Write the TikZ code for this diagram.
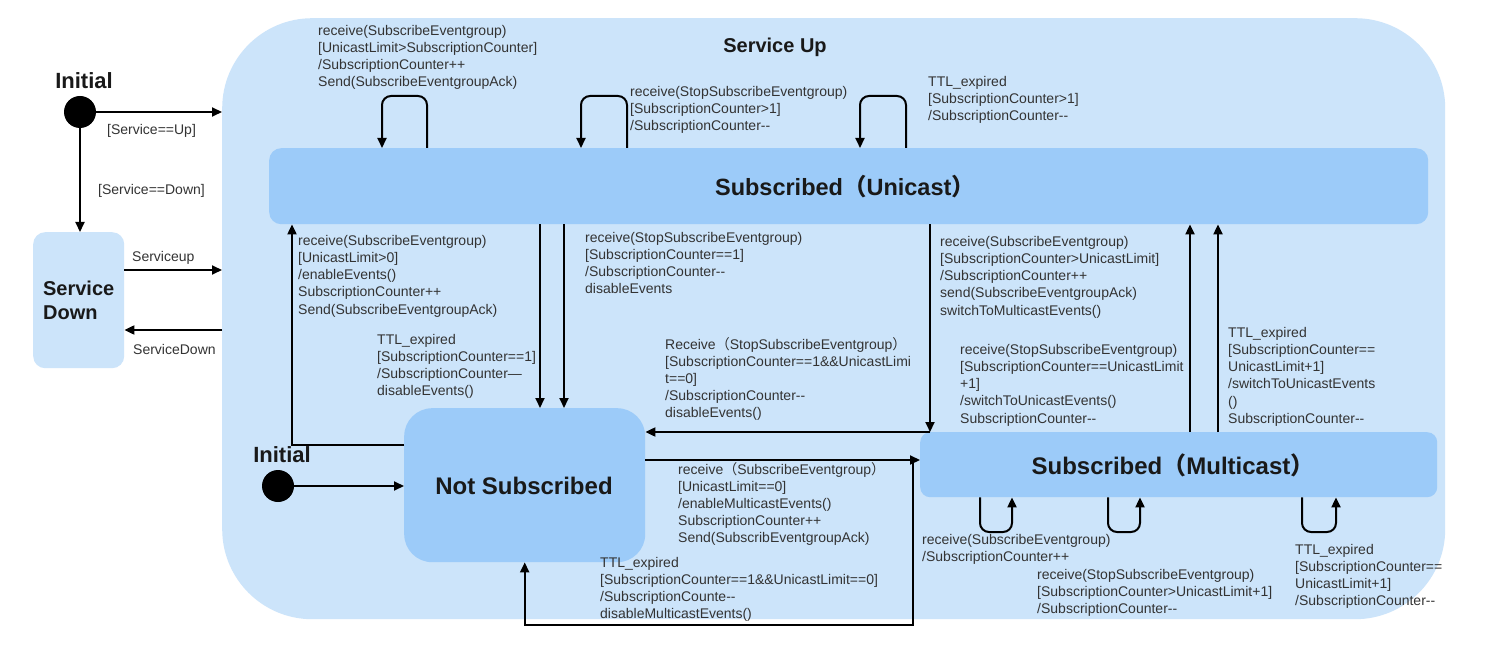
\documentclass[tikz,border=0pt]{standalone}
\usepackage{fontspec}
\setmainfont{Liberation Sans}
\newfontfamily\cjk{Noto Sans CJK SC}
\usetikzlibrary{arrows.meta}
\definecolor{outerblue}{HTML}{CCE4FA}
\definecolor{innerblue}{HTML}{9CCBF9}
\definecolor{txt}{HTML}{333333}
\newcommand{\fwlp}{{\cjk （}}
\newcommand{\fwrp}{{\cjk ）}}
\begin{document}
\begin{tikzpicture}[x=1pt,y=-1pt,
  arr/.style={draw=black, line width=2pt, -{Triangle[length=10pt,width=9pt]}},
  lbl/.style={anchor=north west, inner sep=0pt, align=left, text=txt, font=\fontsize{14}{17.2}\selectfont},
  statebox/.style={fill=innerblue, rounded corners=12pt, inner sep=0pt, text=black!90, font=\bfseries\fontsize{24}{28}\selectfont},
  titletext/.style={font=\bfseries\fontsize{20}{24}\selectfont, text=black!90, inner sep=0pt},
  initdot/.style={circle, fill=black, minimum size=32pt, inner sep=0pt}]

\useasboundingbox (0,0) rectangle (1488,652);
\fill[white] (0,0) rectangle (1488,652);

% composite state
\node[fill=outerblue, rounded corners=90pt, minimum width=1223pt, minimum height=601pt, anchor=north west, inner sep=0pt] (up) at (222,18) {};
\node[titletext] (uptitle) at (775,47) {Service Up};

% states
\node[fill=outerblue, rounded corners=12pt, minimum width=91pt, minimum height=136pt, anchor=north west, inner sep=0pt] (sd) at (33,232) {};
\node[titletext, align=left] (sdtext) at (sd.center) {Service\\Down};

\node[statebox, minimum width=1159pt, minimum height=76pt, anchor=north west] (un) at (269,148) {};
\node[statebox, fill=none, font=\bfseries\fontsize{23.5}{28}\selectfont] (untext) at (845,187) {Subscribed\fwlp Unicast\fwrp};

\node[statebox, rounded corners=28pt, minimum width=241pt, minimum height=154pt, anchor=north west] (ns) at (404,408) {};
\node[statebox, fill=none] (nstext) at (524,486) {Not Subscribed};

\node[statebox, rounded corners=10pt, minimum width=517pt, minimum height=65pt, anchor=north west] (mc) at (920,432) {};
\node[statebox, fill=none] (mctext) at (1173,465) {Subscribed\fwlp Multicast\fwrp};

% initial pseudo-states
\node[initdot] (i1) at (80,112) {};
\node[titletext, font=\bfseries\fontsize{22}{26}\selectfont] (i1t) at (84,81) {Initial};
\node[initdot] (i2) at (278,486) {};
\node[titletext, font=\bfseries\fontsize{22}{26}\selectfont] (i2t) at (282,455) {Initial};

% outer transitions
\draw[arr] (i1.east) -- (up.west |- i1.east);
\draw[arr] (i1.south) -- (sd.north -| i1.south);
\draw[arr] (sd.east |- 0,270) -- (up.west |- 0,270);
\draw[arr] (up.west |- 0,330) -- (sd.east |- 0,330);
\node[lbl] (lsu) at (107,124) {[Service==Up]};
\node[lbl] (lsd) at (98,184) {[Service==Down]};
\node[lbl] (lsup) at (132,251) {Serviceup};
\node[lbl] (lsdown) at (133,344) {ServiceDown};

% inner initial
\draw[arr] (i2.east) -- (ns.west |- i2.east);

% self loops on Unicast
\draw[arr, rounded corners=9pt] (un.north -| 427,0) |- (382,96) -- (un.north -| 382,0);
\draw[arr, rounded corners=9pt] (un.north -| 627,0) |- (581,96) -- (un.north -| 581,0);
\draw[arr, rounded corners=9pt] (un.north -| 906,0) |- (860,96) -- (un.north -| 860,0);

% self loops on Multicast
\draw[arr, rounded corners=9pt] (mc.south -| 980,0) |- (1012,532) -- (mc.south -| 1012,0);
\draw[arr, rounded corners=9pt] (mc.south -| 1108,0) |- (1140,532) -- (mc.south -| 1140,0);
\draw[arr, rounded corners=9pt] (mc.south -| 1302,0) |- (1336,532) -- (mc.south -| 1336,0);

% transitions between states
\draw[arr] (ns.west |- 0,445) -| (un.south -| 292,0);
\draw[arr] (un.south -| 540,0) -- (ns.north -| 540,0);
\draw[arr] (un.south -| 564,0) -- (ns.north -| 564,0);
\draw[arr] (un.south -| 930,0) -- (mc.north -| 930,0);
\draw[arr] (mc.north -| 930,0) -- (ns.east |- 0,432);
\draw[arr] (ns.east |- 0,460) -- (mc.west |- 0,460);
\coordinate (f1) at (913,460);
\coordinate (f2) at (913,625);
\draw[arr] (f1) -- (f2) -| (ns.south);
\draw[arr] (mc.north -| 1190,0) -- (un.south -| 1190,0);
\draw[arr] (mc.north -| 1218,0) -- (un.south -| 1218,0);

% labels
\node[lbl] (l1) at (318,25) {receive(SubscribeEventgroup)\\{}[UnicastLimit>SubscriptionCounter]\\/SubscriptionCounter++\\Send(SubscribeEventgroupAck)};
\node[lbl] (l2) at (630,86) {receive(StopSubscribeEventgroup)\\{}[SubscriptionCounter>1]\\/SubscriptionCounter-{}-};
\node[lbl] (l3) at (928,76) {TTL\_expired\\{}[SubscriptionCounter>1]\\/SubscriptionCounter-{}-};
\node[lbl] (l4) at (298,235) {receive(SubscribeEventgroup)\\{}[UnicastLimit>0]\\/enableEvents()\\SubscriptionCounter++\\Send(SubscribeEventgroupAck)};
\node[lbl] (l5) at (377,334) {TTL\_expired\\{}[SubscriptionCounter==1]\\/SubscriptionCounter—\\disableEvents()};
\node[lbl] (l6) at (585,232) {receive(StopSubscribeEventgroup)\\{}[SubscriptionCounter==1]\\/SubscriptionCounter-{}-\\disableEvents};
\node[lbl] (l7) at (665,337) {Receive\fwlp StopSubscribeEventgroup\fwrp\\{}[SubscriptionCounter==1\&\&UnicastLimi\\t==0]\\/SubscriptionCounter-{}-\\disableEvents()};
\node[lbl] (l8) at (940,236) {receive(SubscribeEventgroup)\\{}[SubscriptionCounter>UnicastLimit]\\/SubscriptionCounter++\\send(SubscribeEventgroupAck)\\switchToMulticastEvents()};
\node[lbl] (l9) at (960,344) {receive(StopSubscribeEventgroup)\\{}[SubscriptionCounter==UnicastLimit\\+1]\\/switchToUnicastEvents()\\SubscriptionCounter-{}-};
\node[lbl] (l10) at (1228,327) {TTL\_expired\\{}[SubscriptionCounter==\\UnicastLimit+1]\\/switchToUnicastEvents\\()\\SubscriptionCounter-{}-};
\node[lbl] (l11) at (678,462) {receive\fwlp SubscribeEventgroup\fwrp\\{}[UnicastLimit==0]\\/enableMulticastEvents()\\SubscriptionCounter++\\Send(SubscribEventgroupAck)};
\node[lbl] (l12) at (600,557) {TTL\_expired\\{}[SubscriptionCounter==1\&\&UnicastLimit==0]\\/SubscriptionCounte-{}-\\disableMulticastEvents()};
\node[lbl] (l13) at (922,534) {receive(SubscribeEventgroup)\\/SubscriptionCounter++};
\node[lbl] (l14) at (1037,569) {receive(StopSubscribeEventgroup)\\{}[SubscriptionCounter>UnicastLimit+1]\\/SubscriptionCounter-{}-};
\node[lbl] (l15) at (1295,544) {TTL\_expired\\{}[SubscriptionCounter==\\UnicastLimit+1]\\/SubscriptionCounter-{}-};
\end{tikzpicture}
\end{document}
